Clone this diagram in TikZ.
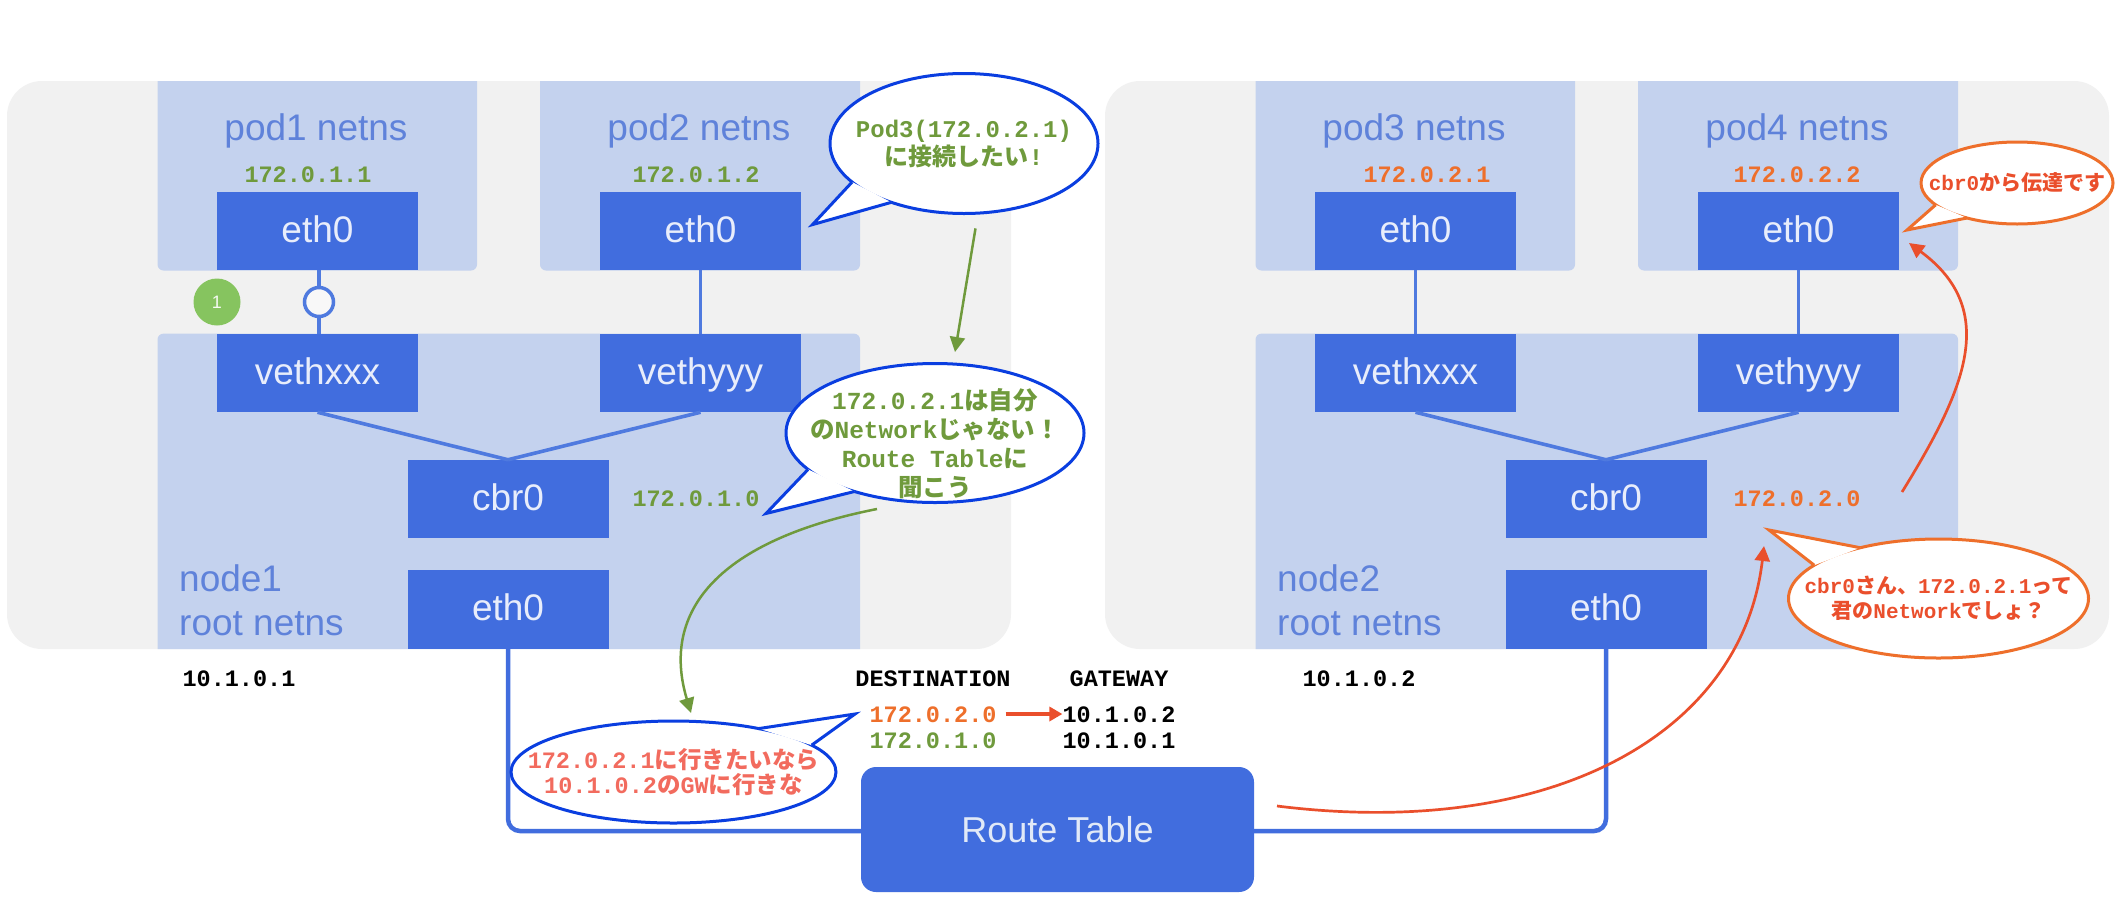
\documentclass[tikz,border=0pt]{standalone}
\usepackage{fontspec}
\setmainfont{Liberation Sans}
\setmonofont{Liberation Mono}
\newfontfamily\jpfont{Noto Sans CJK JP}
\newcommand{\J}[1]{{\jpfont\bfseries #1}}
\newcommand{\fs}[2]{\fontsize{#1}{#2}\selectfont}
\usetikzlibrary{arrows.meta,shapes.geometric,calc}
\definecolor{panelc}{HTML}{F1F1F1}
\definecolor{podc}{HTML}{C4D2EE}
\definecolor{boxc}{HTML}{416DDE}
\definecolor{linec}{HTML}{4F7ADF}
\definecolor{labelc}{HTML}{5F82DA}
\definecolor{greenc}{HTML}{6F9A3C}
\definecolor{orangec}{HTML}{EE6F2B}
\definecolor{redc}{HTML}{EA4F2C}
\definecolor{salmonc}{HTML}{F26B5E}
\definecolor{bubbleb}{HTML}{0A3EE0}
\definecolor{badgec}{HTML}{86C45F}
\tikzset{
  panel/.style={fill=panelc,rounded corners=35pt},
  podarea/.style={fill=podc},
  bluebox/.style={rectangle,fill=boxc,text=white!88!boxc,inner sep=0pt,outer sep=0pt,
    minimum width=201pt,minimum height=78.5pt,text height=28pt,text depth=6pt,font=\fs{37}{44}},
  arealabel/.style={text=labelc,font=\fs{37}{44},inner sep=0pt},
  addr/.style={font=\ttfamily\bfseries\fs{23.5}{28},inner sep=0pt},
  wire/.style={draw=linec,line width=3.6pt},
  trunk/.style={draw=boxc,line width=4.5pt,rounded corners=12pt},
  garrow/.style={draw=greenc,line width=2.5pt,-{Triangle[length=15pt,width=15pt]}},
  oarrow/.style={draw=redc,line width=2.7pt,-{Triangle[length=15pt,width=15pt]}},
  bubble/.style={ellipse,fill=white,draw=#1,line width=3pt,inner sep=-40pt,outer sep=0pt,align=center},
  tailfill/.style={fill=white},
  tailline/.style={draw=#1,line width=3pt,line join=miter},
}
\begin{document}
\begin{tikzpicture}[x=1pt,y=-1pt]
\useasboundingbox[fill=white] (0,0) rectangle (2116,900);
% panels
\fill[panel] (7,81) rectangle (1011,649);
\fill[panel] (1105,81) rectangle (2109,649);
% pod and node areas
\foreach \dx in {0,1098}{
  \begin{scope}[xshift=\dx pt]
  \fill[podarea] (157.5,81) -- (477,81) [rounded corners=6pt] -- (477,270.5) -- (157.5,270.5) [sharp corners] -- cycle;
  \fill[podarea] (540,81) -- (860,81) [rounded corners=6pt] -- (860,270.5) -- (540,270.5) [sharp corners] -- cycle;
  \fill[podarea] (157.5,649) [rounded corners=6pt] -- (157.5,333.6) -- (860,333.6) [sharp corners] -- (860,649) -- cycle;
  \end{scope}
}
% labels of the areas
\node[arealabel] (lpod1) at (316,131) {pod1 netns};
\node[arealabel] (lpod2) at (699,131) {pod2 netns};
\node[arealabel] (lpod3) at (1414,131) {pod3 netns};
\node[arealabel] (lpod4) at (1797,131) {pod4 netns};
\node[arealabel,anchor=west,align=left] (lnode1) at (179,600) {node1\\root netns};
\node[arealabel,anchor=west,align=left] (lnode2) at (1277,600) {node2\\root netns};
% boxes node 1
\node[bluebox] (p1e) at (317.5,231) {eth0};
\node[bluebox] (p2e) at (700.5,231) {eth0};
\node[bluebox] (vx1) at (317.5,373) {vethxxx};
\node[bluebox] (vy1) at (700.5,373) {vethyyy};
\node[bluebox] (cb1) at (508,499) {cbr0};
\node[bluebox] (et1) at (508,609.7) {eth0};
% boxes node 2
\node[bluebox] (p3e) at (1415.5,231) {eth0};
\node[bluebox] (p4e) at (1798.5,231) {eth0};
\node[bluebox] (vx2) at (1415.5,373) {vethxxx};
\node[bluebox] (vy2) at (1798.5,373) {vethyyy};
\node[bluebox] (cb2) at (1606,499) {cbr0};
\node[bluebox] (et2) at (1606,609.7) {eth0};
% wires
\node[circle,fill=panelc!50!white,draw=linec,line width=3.5pt,minimum size=29pt,inner sep=0pt] (hole) at (319,302) {};
\draw[wire] (hole |- p1e.south) -- (hole);
\draw[wire] (hole) -- (hole |- vx1.north);
\draw[wire] (p2e.south) -- (vy1.north);
\draw[wire] (p3e.south) -- (vx2.north);
\draw[wire] (p4e.south) -- (vy2.north);
\draw[wire] (vx1.south) -- (cb1.north);
\draw[wire] (vy1.south) -- (cb1.north);
\draw[wire] (vx2.south) -- (cb2.north);
\draw[wire] (vy2.south) -- (cb2.north);
\node[circle,fill=badgec,text=white!92!badgec,minimum size=47pt,inner sep=0pt,font=\fs{18}{20}] (badge) at (217,302) {1};
% route table
\draw[trunk] (et1.south) |- (861,831) coordinate (rl);
\draw[trunk] (1254,831) coordinate (rr) -| (et2.south);
\node[rectangle,fill=boxc,rounded corners=15pt,minimum width=393pt,minimum height=125pt,inner sep=0pt,
  text=podc!50!white,font=\fs{36}{40}] (rt) at (1057.5,829.5) {Route Table};
% addresses
\node[addr,text=greenc] (a1) at (308,175) {172.0.1.1};
\node[addr,text=greenc] (a2) at (696,175) {172.0.1.2};
\node[addr,text=greenc] (a3) at (696,499) {172.0.1.0};
\node[addr,text=orangec] (a4) at (1427,175) {172.0.2.1};
\node[addr,text=orangec] (a5) at (1797,175) {172.0.2.2};
\node[addr,text=orangec] (a6) at (1797,499) {172.0.2.0};
\node[addr] (g1) at (239,679) {10.1.0.1};
\node[addr] (g2) at (1359,679) {10.1.0.2};
\node[addr] (hd) at (933,679) {DESTINATION};
\node[addr] (hg) at (1119,679) {GATEWAY};
\node[addr,text=orangec] (d1) at (933,715) {172.0.2.0};
\node[addr,text=greenc] (d2) at (933,741) {172.0.1.0};
\node[addr] (t1) at (1119,715) {10.1.0.2};
\node[addr] (t2) at (1119,741) {10.1.0.1};
\draw[draw=redc,line width=3.5pt,-{Triangle[length=13pt,width=14pt]}] ($(d1.east)+(9,-1)$) -- ($(t1.west)+(0,-1)$);
% bubbles
\node[bubble=bubbleb,minimum width=268pt,minimum height=140pt,text=greenc,font=\ttfamily\bfseries\fs{24}{28}] (b1) at (964,143.5)
  {Pod3(172.0.2.1)\\\J{に接続したい}!};
\node[bubble=bubbleb,minimum width=298pt,minimum height=139pt,text=greenc,font=\ttfamily\bfseries\fs{24.5}{29}] (b2) at (935,433)
  {\rule{0pt}{42pt}172.0.2.1\J{は自分}\\\J{の}Network\J{じゃない！}\\Route Table\J{に}\\\J{聞こう}};
\node[bubble=bubbleb,minimum width=325pt,minimum height=102pt,text=salmonc,font=\ttfamily\bfseries\fs{23.5}{25}] (b3) at (673.5,772)
  {172.0.2.1\J{に行きたいなら}\\10.1.0.2\J{の}GW\J{に行きな}};
\node[bubble=orangec,minimum width=192pt,minimum height=82pt,text=redc,font=\ttfamily\bfseries\fs{21}{25}] (b4) at (2017,183)
  {cbr0\J{から伝達です}};
\node[bubble=orangec,minimum width=300pt,minimum height=119pt,text=redc,font=\ttfamily\bfseries\fs{21}{25}] (b5) at (1938.5,598.5)
  {cbr0\J{さん、}172.0.2.1\J{って}\\\J{君の}Network\J{でしょ？}};
% tails
\coordinate (tip1) at (812.5,224.6);
\coordinate (tip2) at (766,513.5);
\coordinate (tip3) at (855,714);
\coordinate (tip4) at (1907,230);
\coordinate (tip5) at (1769,530);
\fill[tailfill] (b1.199) -- (tip1) -- (b1.219.6) -- cycle;
\draw[tailline=bubbleb] (b1.199) -- (tip1) -- (b1.219.6);
\fill[tailfill] (b2.196.5) -- (tip2) -- (b2.216.5) -- cycle;
\draw[tailline=bubbleb] (b2.196.5) -- (tip2) -- (b2.216.5);
\fill[tailfill] (b3.27.2) -- (tip3) -- (b3.11.8) -- cycle;
\draw[tailline=bubbleb] (b3.27.2) -- (tip3) -- (b3.11.8);
\fill[tailfill] (b4.195.8) -- (tip4) -- (b4.215.3) -- cycle;
\draw[tailline=orangec] (b4.195.8) -- (tip4) -- (b4.215.3);
\fill[tailfill] (b5.165.8) -- (tip5) -- (b5.147.8) -- cycle;
\draw[tailline=orangec] (b5.165.8) -- (tip5) -- (b5.147.8);
% arrows
\coordinate (ga) at (975.5,228.4);
\coordinate (gb) at (955,352);
\draw[garrow] (ga) -- (gb);
\coordinate (gc) at (877,509);
\coordinate (gd) at (691,713);
\draw[garrow] (gc) .. controls (720,540) and (660,610) .. (gd);
\coordinate (oa) at (1277,806);
\coordinate (ob) at (1764,546);
\draw[oarrow] (oa) .. controls (1550,840) and (1742,735) .. (ob);
\coordinate (oc) at (1902,492);
\coordinate (od) at (1909,243);
\draw[oarrow] (oc) .. controls (1965,390) and (2000,310) .. (od);
\end{tikzpicture}
\end{document}
